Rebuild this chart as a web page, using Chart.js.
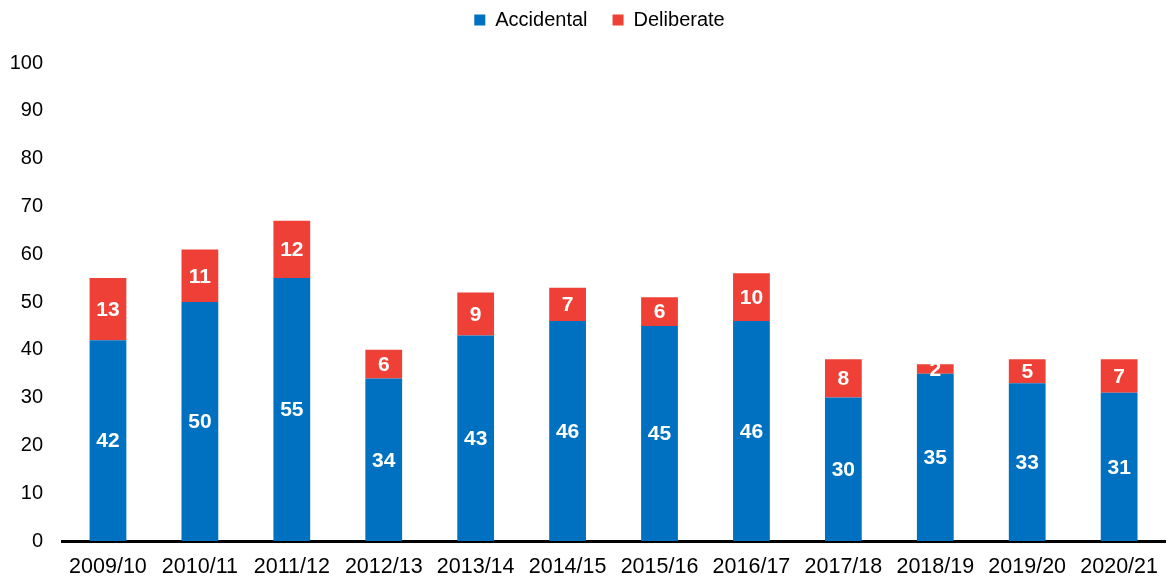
<!DOCTYPE html>
<html>
<head>
<meta charset="utf-8">
<script src="https://cdn.jsdelivr.net/npm/chart.js@4"></script>
<style>
  html, body { margin: 0; padding: 0; background: #fff; }
  #wrap { width: 1171px; height: 578px; }
</style>
</head>
<body>
<div id="wrap"><canvas id="grafica"></canvas></div>
<script>
// datos
var anios = ["2009/10", "2010/11", "2011/12", "2012/13", "2013/14", "2014/15",
             "2015/16", "2016/17", "2017/18", "2018/19", "2019/20", "2020/21"];
var accidental = [42, 50, 55, 34, 43, 46, 45, 46, 30, 35, 33, 31];
var deliberate = [13, 11, 12, 6, 9, 7, 6, 10, 8, 2, 5, 7];
var ticksY = [0, 10, 20, 30, 40, 50, 60, 70, 80, 90, 100];

var azul = "#0070C0";
var rojo = "#EE4036";
var fuente = "'Liberation Sans', Arial, sans-serif";

// etiquetas blancas dentro de cada barra
var etiquetasBarras = {
    id: "etiquetasBarras",
    afterDatasetsDraw: function (chart) {
        var ctx = chart.ctx;
        ctx.save();
        ctx.fillStyle = "#fff";
        ctx.font = "bold 21px " + fuente;
        ctx.textAlign = "center";
        ctx.textBaseline = "middle";
        chart.data.datasets.forEach(function (ds, i) {
            var meta = chart.getDatasetMeta(i);
            meta.data.forEach(function (bar, j) {
                var yc = (bar.y + bar.base) / 2;
                ctx.fillText(String(ds.data[j]), bar.x, yc + 1);
            });
        });
        ctx.restore();
    }
};

// espacio extra debajo de la leyenda y pequeño corrimiento a la derecha
var espacioLeyenda = {
    id: "espacioLeyenda",
    beforeInit: function (chart) {
        if (!chart.legend) return;
        var fitOrig = chart.legend.fit;
        chart.legend.fit = function () {
            fitOrig.bind(chart.legend)();
            this.height += 23;
        };
    },
    afterLayout: function (chart) {
        if (!chart.legend) return;
        chart.legend.left += 10;
        chart.legend.right += 10;
    }
};

var ctx = document.getElementById("grafica").getContext("2d");
var miGrafica = new Chart(ctx, {
    type: "bar",
    data: {
        labels: anios,
        datasets: [
            { label: "Accidental", data: accidental, backgroundColor: azul,
              categoryPercentage: 1, barPercentage: 0.4 },
            { label: "Deliberate", data: deliberate, backgroundColor: rojo,
              categoryPercentage: 1, barPercentage: 0.4 }
        ]
    },
    options: {
        responsive: true,
        maintainAspectRatio: false,
        animation: false,
        layout: { padding: { left: 8, right: 0, top: -15, bottom: 0 } },
        plugins: {
            legend: {
                position: "top",
                labels: {
                    color: "#000",
                    font: { family: fuente, size: 20 },
                    boxWidth: 11,
                    boxHeight: 11,
                    padding: 25
                }
            },
            tooltip: { enabled: false }
        },
        scales: {
            x: {
                stacked: true,
                grid: { display: false, drawTicks: false },
                border: { color: "#000", width: 3 },
                ticks: { color: "#000", font: { family: fuente, size: 21.5 }, padding: 13, maxRotation: 0 },
                afterFit: function (axis) { axis.height = 37; }
            },
            y: {
                stacked: true,
                min: 0,
                max: 100,
                afterBuildTicks: function (axis) {
                    axis.ticks = ticksY.map(function (v) { return { value: v }; });
                },
                grid: { display: false, drawTicks: false },
                border: { display: false },
                ticks: { color: "#000", font: { family: fuente, size: 20 }, padding: 19 },
                afterFit: function (axis) { axis.width = 54; }
            }
        }
    },
    plugins: [etiquetasBarras, espacioLeyenda]
});
</script>
</body>
</html>
